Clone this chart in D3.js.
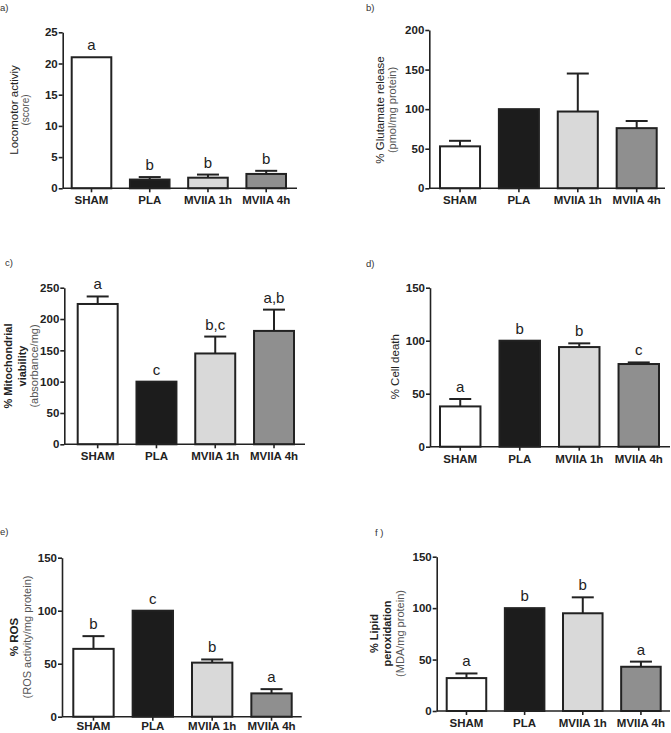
<!DOCTYPE html>
<html>
<head>
<meta charset="utf-8">
<script src="https://cdn.jsdelivr.net/npm/d3@7"></script>
<style>
  html, body { margin: 0; padding: 0; background: #fff; }
  svg { display: block; font-family: "Liberation Sans", Arial, sans-serif; }
</style>
</head>
<body>
<svg id="chart" width="671" height="733"></svg>
<script>
// ---------- DATA ----------
const categories = ["SHAM", "PLA", "MVIIA 1h", "MVIIA 4h"];

const locomotorMean    = [21, 1.4, 1.7, 2.3];
const locomotorErr     = [0, 0.4, 0.5, 0.5];
const locomotorLetters = ["a", "b", "b", "b"];
const locomotorTicks   = [0, 5, 10, 15, 20, 25];

const glutamateMean    = [53, 100, 97, 76];
const glutamateErr     = [7, 0, 48, 9];
const glutamateLetters = ["", "", "", ""];
const glutamateTicks   = [0, 50, 100, 150, 200];

const mitoMean    = [224, 100, 145, 181];
const mitoErr     = [12, 0, 27, 34];
const mitoLetters = ["a", "c", "b,c", "a,b"];
const mitoTicks   = [0, 50, 100, 150, 200, 250];

const cellDeathMean    = [38, 100, 94, 78];
const cellDeathErr     = [7, 0, 3.5, 1.5];
const cellDeathLetters = ["a", "b", "b", "c"];
const cellDeathTicks   = [0, 50, 100, 150];

const rosMean    = [64, 100, 51, 22];
const rosErr     = [12, 0, 3, 4];
const rosLetters = ["b", "c", "b", "a"];
const rosTicks   = [0, 50, 100, 150];

const lipidMean    = [32, 100, 95, 43];
const lipidErr     = [4.5, 0, 15.5, 5];
const lipidLetters = ["a", "b", "b", "a"];
const lipidTicks   = [0, 50, 100, 150];

// ---------- STYLE / LAYOUT ----------
const barFills = ["#ffffff", "#1c1c1c", "#d9d9d9", "#8f8f8f"];
const ink = "#222";

const panels = [
  { label: "a)", lx: 0, ly: 11, mean: locomotorMean, err: locomotorErr, letters: locomotorLetters, ticks: locomotorTicks,
    x0: 62.7, x1: 297, band: [71.7, 286], yTop: 32.3, yBot: 188.3, pad: 4,
    titles: [{t: "Locomotor activiy", x: 13.5, size: 11.5, w: 400, c: ink}, {t: "(score)", x: 25.5, size: 10, w: 400, c: "#555"}], ty: 110 },
  { label: "b)", lx: 366, ly: 11, mean: glutamateMean, err: glutamateErr, letters: glutamateLetters, ticks: glutamateTicks,
    x0: 429.3, x1: 665, band: [440, 656.7], yTop: 30, yBot: 188.3, pad: 4,
    titles: [{t: "% Glutamate release", x: 379.5, size: 11.5, w: 400, c: ink}, {t: "(pmol/mg protein)", x: 392, size: 11, w: 400, c: "#555"}], ty: 110 },
  { label: "c)", lx: 5, ly: 266, mean: mitoMean, err: mitoErr, letters: mitoLetters, ticks: mitoTicks,
    x0: 64.3, x1: 305, band: [77.7, 294], yTop: 287.7, yBot: 444.3, pad: 4,
    titles: [{t: "% Mitochondrial", x: 7.5, size: 11, w: 700, c: ink}, {t: "viability", x: 21.5, size: 11, w: 700, c: ink}, {t: "(absorbance/mg)", x: 33.5, size: 11, w: 400, c: "#555"}], ty: 366 },
  { label: "d)", lx: 366, ly: 267, mean: cellDeathMean, err: cellDeathErr, letters: cellDeathLetters, ticks: cellDeathTicks,
    x0: 430, x1: 670, band: [440, 659], yTop: 287.7, yBot: 446.7, pad: 4,
    titles: [{t: "% Cell death", x: 394.5, size: 11.5, w: 400, c: ink}], ty: 366.7 },
  { label: "e)", lx: 0, ly: 535, mean: rosMean, err: rosErr, letters: rosLetters, ticks: rosTicks,
    x0: 62, x1: 301.7, band: [73.3, 291.7], yTop: 557.7, yBot: 716.7, pad: 1,
    titles: [{t: "% ROS", x: 14, size: 11.5, w: 700, c: ink}, {t: "(ROS activity/mg protein)", x: 27, size: 11, w: 400, c: "#555"}], ty: 637 },
  { label: "f )", lx: 375, ly: 536, mean: lipidMean, err: lipidErr, letters: lipidLetters, ticks: lipidTicks,
    x0: 436.7, x1: 670, band: [446.7, 660.7], yTop: 556.7, yBot: 711, pad: 4,
    titles: [{t: "% Lipid", x: 373.5, size: 11, w: 700, c: ink}, {t: "peroxidation", x: 387, size: 11, w: 700, c: ink}, {t: "(MDA/mg protein)", x: 400, size: 11, w: 400, c: "#555"}], ty: 633.5 }
];

const svg = d3.select("#chart");

panels.forEach(p => {
  const g = svg.append("g");
  const max = p.ticks[p.ticks.length - 1];
  const y = d3.scaleLinear().domain([0, max]).range([p.yBot, p.yTop]);
  const x = d3.scaleBand().domain(categories).range(p.band).paddingInner(0.32).paddingOuter(0);

  // panel label
  g.append("text").attr("x", p.lx).attr("y", p.ly).attr("font-size", 9.5).attr("fill", "#333").text(p.label);

  // y title(s)
  p.titles.forEach(t => {
    g.append("text")
      .attr("transform", `translate(${t.x},${p.ty}) rotate(-90)`)
      .attr("text-anchor", "middle").attr("dominant-baseline", "central")
      .attr("font-size", t.size).attr("font-weight", t.w).attr("fill", t.c)
      .text(t.t);
  });

  // bars
  const data = categories.map((c, i) => ({ c, v: p.mean[i], e: p.err[i], l: p.letters[i], f: barFills[i] }));
  g.selectAll("rect.bar").data(data).enter().append("rect")
    .attr("x", d => x(d.c)).attr("width", x.bandwidth())
    .attr("y", d => y(d.v)).attr("height", d => y(0) - y(d.v))
    .attr("fill", d => d.f).attr("stroke", ink).attr("stroke-width", 2);

  // error bars
  const eb = data.filter(d => d.e > 0);
  g.selectAll("line.err").data(eb).enter().append("line")
    .attr("x1", d => x(d.c) + x.bandwidth() / 2).attr("x2", d => x(d.c) + x.bandwidth() / 2)
    .attr("y1", d => y(d.v)).attr("y2", d => y(d.v + d.e))
    .attr("stroke", ink).attr("stroke-width", 2);
  g.selectAll("line.cap").data(eb).enter().append("line")
    .attr("x1", d => x(d.c) + x.bandwidth() / 2 - 11).attr("x2", d => x(d.c) + x.bandwidth() / 2 + 11)
    .attr("y1", d => y(d.v + d.e)).attr("y2", d => y(d.v + d.e))
    .attr("stroke", ink).attr("stroke-width", 2);

  // letters
  g.selectAll("text.letter").data(data.filter(d => d.l)).enter().append("text")
    .attr("x", d => x(d.c) + x.bandwidth() / 2)
    .attr("y", d => y(d.v + d.e) - 7)
    .attr("text-anchor", "middle").attr("font-size", 15).attr("fill", ink)
    .text(d => d.l);

  // y axis
  const ya = g.append("g").attr("transform", `translate(${p.x0},0)`)
    .call(d3.axisLeft(y).tickValues(p.ticks).tickSize(4).tickSizeOuter(0).tickPadding(1));
  ya.select(".domain").attr("stroke", ink).attr("stroke-width", 1.6);
  ya.selectAll(".tick line").attr("stroke", ink).attr("stroke-width", 1.6);
  ya.selectAll(".tick text").attr("font-size", 11.5).attr("font-weight", 700).attr("fill", ink)
    .attr("font-family", "Liberation Sans, Arial, sans-serif");

  // x axis
  const xa = g.append("g").attr("transform", `translate(0,${p.yBot})`)
    .call(d3.axisBottom(x).tickSize(4).tickSizeOuter(0).tickPadding(p.pad));
  xa.select(".domain").remove();
  xa.selectAll(".tick line").attr("stroke", ink).attr("stroke-width", 1.6);
  xa.selectAll(".tick text").attr("font-size", 11.5).attr("font-weight", 700).attr("fill", ink)
    .attr("font-family", "Liberation Sans, Arial, sans-serif");
  g.append("line").attr("x1", p.x0).attr("x2", p.x1).attr("y1", p.yBot).attr("y2", p.yBot)
    .attr("stroke", ink).attr("stroke-width", 1.6);
});
</script>
</body>
</html>
